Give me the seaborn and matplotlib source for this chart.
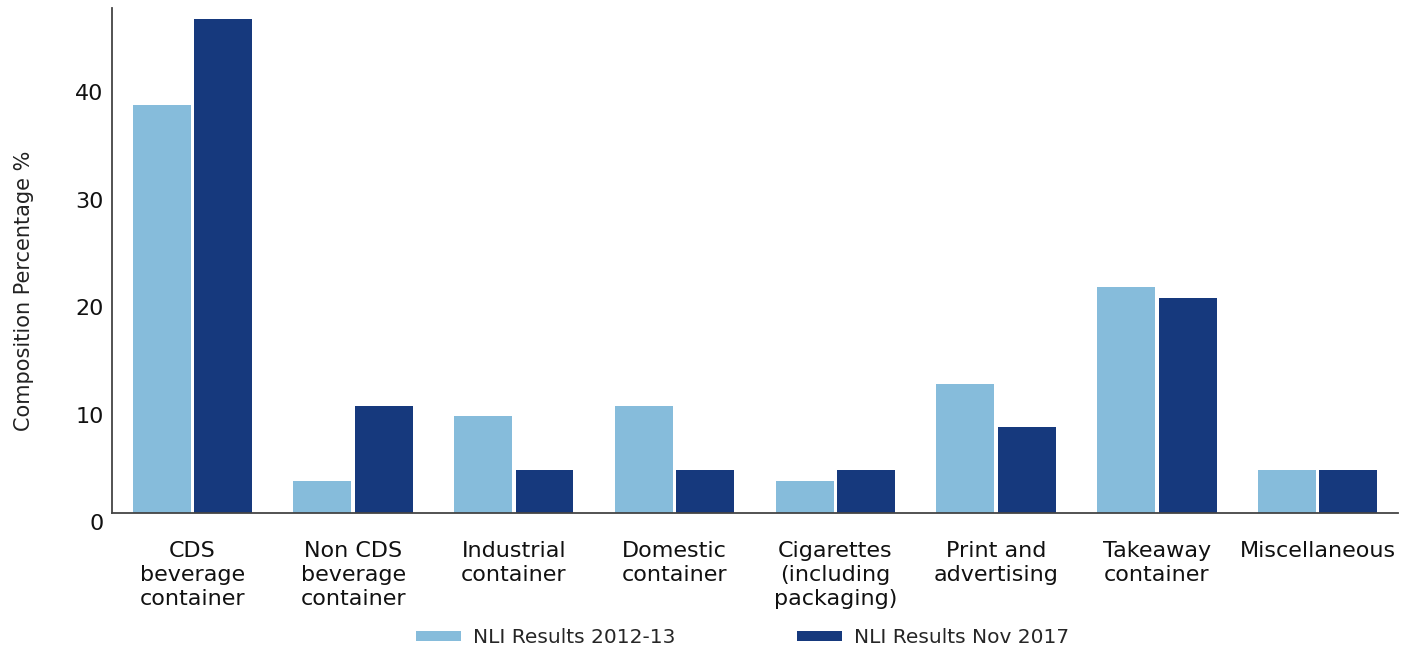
import matplotlib
matplotlib.use("Agg")
import matplotlib.pyplot as plt
import matplotlib.transforms as mtransforms
import seaborn as sns
import pandas as pd

categories = [
    "CDS\nbeverage\ncontainer",
    "Non CDS\nbeverage\ncontainer",
    "Industrial\ncontainer",
    "Domestic\ncontainer",
    "Cigarettes\n(including\npackaging)",
    "Print and\nadvertising",
    "Takeaway\ncontainer",
    "Miscellaneous",
]
series_names = ["NLI Results 2012-13", "NLI Results Nov 2017"]
results_2012_13 = [38, 3, 9, 10, 3, 12, 21, 4]
results_nov_2017 = [46, 10, 4, 4, 4, 8, 20, 4]
y_ticks = [0, 10, 20, 30, 40]

colors = ["#86BCDB", "#16397D"]

df = pd.DataFrame({
    "category": categories * 2,
    "series": [series_names[0]] * len(categories) + [series_names[1]] * len(categories),
    "value": results_2012_13 + results_nov_2017,
})

sns.set_theme(style="white")
plt.rcParams["font.family"] = ["DejaVu Sans"]

fig = plt.figure(figsize=(14.17, 6.51), dpi=100)
ax = fig.add_axes([0.079, 0.212, 0.9076, 0.776])

sns.barplot(
    data=df, x="category", y="value", hue="series",
    order=categories, hue_order=series_names,
    palette=colors, width=0.764, gap=0.057,
    saturation=1, edgecolor="none", ax=ax, legend=True,
)

ax.set_xlim(-0.5, len(categories) - 0.5)
ax.set_ylim(0, 47)
ax.set_yticks(y_ticks)
ax.set_yticklabels([str(t) for t in y_ticks], fontsize=16, color="#111111")
ax.tick_params(axis="y", length=0, pad=6)
ax.tick_params(axis="x", length=0, pad=20, labelsize=16, labelcolor="#111111")
for lbl in ax.get_xticklabels():
    lbl.set_linespacing(1.25)
# tick numbers sit a little below their value position
offset = mtransforms.ScaledTranslation(0, -9 / 100, fig.dpi_scale_trans)
for lbl in ax.get_yticklabels():
    lbl.set_transform(lbl.get_transform() + offset)

ax.set_xlabel("")
ax.set_ylabel("Composition Percentage %", fontsize=15, color="#222222")
ax.yaxis.set_label_coords(-0.0607, 0.44)

for side in ["top", "right"]:
    ax.spines[side].set_visible(False)
for side in ["left", "bottom"]:
    ax.spines[side].set_color("#444444")
    ax.spines[side].set_linewidth(1.3)

handles, labels = ax.get_legend_handles_labels()
ax.legend(
    handles, labels, loc="center", bbox_to_anchor=(0.524, 0.02),
    bbox_transform=fig.transFigure, ncol=2, frameon=False, fontsize=14.5,
    handlelength=2.25, handleheight=0.4, handletextpad=0.6, columnspacing=6.0,
)

fig.savefig("out.png", dpi=100)
